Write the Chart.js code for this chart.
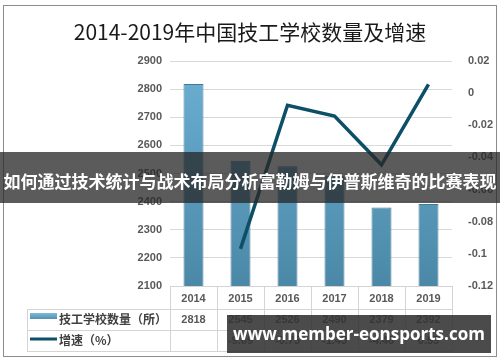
<!DOCTYPE html>
<html>
<head>
<meta charset="utf-8">
<title>2014-2019年中国技工学校数量及增速</title>
<script src="https://cdn.jsdelivr.net/npm/chart.js@4.4.1/dist/chart.umd.min.js"></script>
<style>
    body { margin: 0; background: #fff; }
    .wrap { position: relative; width: 500px; height: 362px; overflow: hidden; }
    canvas { position: absolute; left: 0; top: 0; }
    .banner {
        position: absolute; left: 0; top: 152px; width: 500px; height: 51px;
        background: rgba(40,40,40,0.76); color: #fff;
        font-family: "Noto Sans CJK SC", sans-serif; font-weight: bold; font-size: 17px;
        line-height: 51px; text-align: center; white-space: nowrap; padding-top: 3px; box-sizing: border-box;
    }
    .mark {
        position: absolute; left: 227px; top: 315px; width: 264px; height: 38px;
        background: rgba(50,50,50,0.88); color: #fff;
        font-family: "Open Sans", sans-serif; font-weight: bold; font-size: 17px;
        line-height: 38px; text-align: center; white-space: nowrap;
    }
</style>
</head>
<body>
<div class="wrap">
    <canvas id="c" width="500" height="362"></canvas>
    <div class="banner">如何通过技术统计与战术布局分析富勒姆与伊普斯维奇的比赛表现</div>
    <div class="mark">www.member-eonsports.com</div>
</div>
<script>
    // 数据
    const years = ['2014', '2015', '2016', '2017', '2018', '2019'];
    const schools = [2818, 2545, 2526, 2490, 2379, 2392];
    const growth = [null, -0.0969, -0.0075, -0.0143, -0.0446, 0.0055];
    const growthText = ['', '-9.69', '-0.75', '-1.43', '-4.46', '0.55'];
    const seriesNames = ['技工学校数量（所）', '增速（%）'];
    const titleText = '2014-2019年中国技工学校数量及增速';

    const tickFont = 'bold 11px "Liberation Sans", Arial, sans-serif';

    // 标题、边框和数据表
    const tablePlugin = {
        id: 'tablePlugin',
        afterDraw(chart) {
            const ctx = chart.ctx;
            const x = chart.scales.x;
            const area = chart.chartArea;
            ctx.save();
            ctx.strokeStyle = '#8c8c8c';
            ctx.lineWidth = 1;
            ctx.strokeRect(3.5, 5.5, 493, 351);

            ctx.fillStyle = '#1a1a1a';
            ctx.font = '21px "Noto Sans CJK SC", serif';
            ctx.textAlign = 'center';
            ctx.textBaseline = 'middle';
            ctx.fillText(titleText, 250, 32);

            const colW = (area.right - area.left) / years.length;
            const rows = [286, 309, 330, 351];
            const leftX = 27;
            ctx.strokeStyle = '#d4d4d4';
            ctx.beginPath();
            ctx.moveTo(area.left, rows[0] + 0.5); ctx.lineTo(area.right, rows[0] + 0.5);
            for (let r = 1; r < rows.length; r++) {
                ctx.moveTo(leftX, rows[r] + 0.5); ctx.lineTo(area.right, rows[r] + 0.5);
            }
            for (let i = 0; i <= years.length; i++) {
                const px = Math.round(area.left + i * colW) + 0.5;
                ctx.moveTo(px, rows[0]); ctx.lineTo(px, rows[3]);
            }
            ctx.moveTo(leftX + 0.5, rows[1]); ctx.lineTo(leftX + 0.5, rows[3]);
            ctx.stroke();

            ctx.fillStyle = '#595959';
            ctx.font = tickFont;
            years.forEach((y, i) => {
                const cx = x.getPixelForValue(i);
                ctx.fillText(y, cx, (rows[0] + rows[1]) / 2 + 1);
                ctx.fillText(String(schools[i]), cx, (rows[1] + rows[2]) / 2);
                ctx.fillText(growthText[i], cx, (rows[2] + rows[3]) / 2);
            });

            // 图例
            const g = ctx.createLinearGradient(0, 313, 0, 320);
            g.addColorStop(0, '#7db9d8');
            g.addColorStop(1, '#4d8aa9');
            ctx.fillStyle = g;
            ctx.fillRect(30, 313, 27, 6);
            ctx.strokeStyle = '#0d4f66';
            ctx.lineWidth = 3;
            ctx.beginPath();
            ctx.moveTo(30, 339); ctx.lineTo(57, 339);
            ctx.stroke();
            ctx.fillStyle = '#404040';
            ctx.font = 'bold 12px "Noto Sans CJK SC", sans-serif';
            ctx.textAlign = 'left';
            ctx.fillText(seriesNames[0], 59, 319);
            ctx.fillText(seriesNames[1], 59, 340);
            ctx.restore();
        }
    };

    const ctx = document.getElementById('c').getContext('2d');
    new Chart(ctx, {
        data: {
            labels: years,
            datasets: [{
                type: 'line',
                label: seriesNames[1],
                data: growth,
                yAxisID: 'y1',
                borderColor: '#0d4f66',
                borderWidth: 3.5,
                pointRadius: 0,
                tension: 0,
                order: 0
            }, {
                type: 'bar',
                label: seriesNames[0],
                data: schools,
                yAxisID: 'y',
                backgroundColor: function (context) {
                    const c = context.chart;
                    if (!c.chartArea) return '#5fa3c5';
                    const gr = c.ctx.createLinearGradient(0, c.chartArea.top, 0, c.chartArea.bottom);
                    gr.addColorStop(0, '#6cb0d3');
                    gr.addColorStop(1, '#4b88a7');
                    return gr;
                },
                borderColor: '#3f7a98',
                borderWidth: 1,
                barPercentage: 0.85,
                categoryPercentage: 0.5,
                order: 1
            }]
        },
        options: {
            responsive: false,
            animation: false,
            layout: { padding: { top: 61, bottom: 76, left: 0, right: 0 } },
            plugins: { legend: { display: false }, tooltip: { enabled: false } },
            scales: {
                x: { display: false },
                y: {
                    position: 'left',
                    min: 2100, max: 2900,
                    ticks: {
                        stepSize: 100, color: '#595959', padding: 8,
                        font: { family: '"Liberation Sans", Arial', size: 11, weight: 'bold' },
                        callback: v => String(v)
                    },
                    grid: { color: '#d9d9d9', drawTicks: false },
                    border: { display: false },
                    afterFit(s) { s.width = 170; }
                },
                y1: {
                    position: 'right',
                    min: -0.12, max: 0.02,
                    ticks: {
                        stepSize: 0.02, color: '#595959', padding: 8,
                        font: { family: '"Liberation Sans", Arial', size: 11, weight: 'bold' },
                        callback: v => String(Math.round(v * 100) / 100)
                    },
                    grid: { display: false },
                    border: { display: false },
                    afterFit(s) { s.width = 48; }
                }
            }
        },
        plugins: [tablePlugin]
    });
</script>
</body>
</html>
